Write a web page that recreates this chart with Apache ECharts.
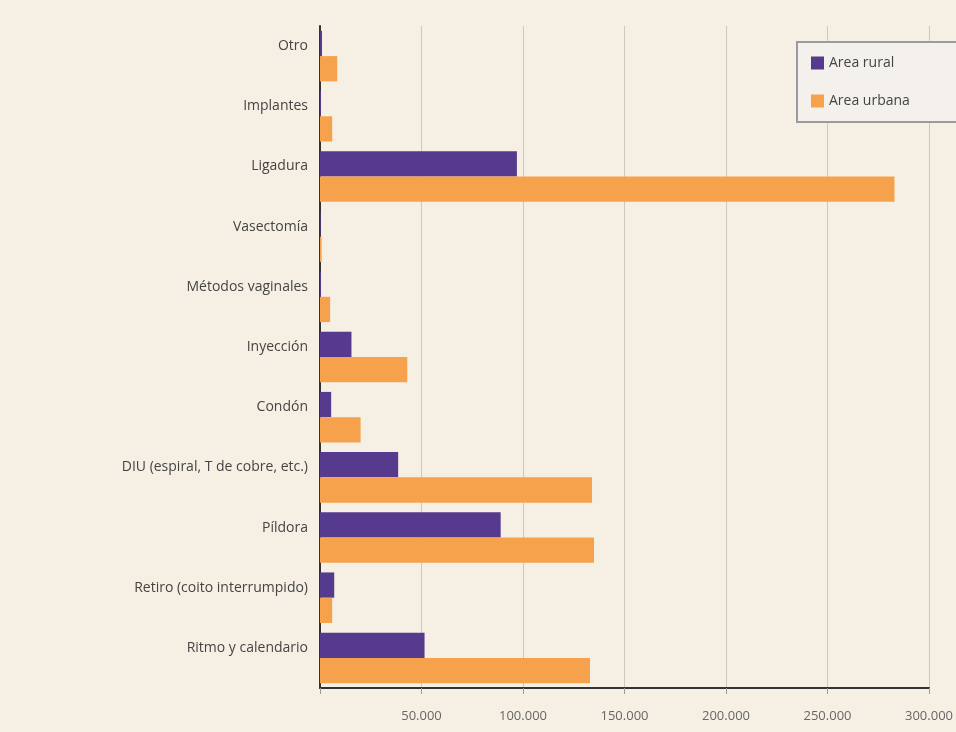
<!DOCTYPE html>
<html>
<head>
<meta charset="utf-8">
<script src="https://cdn.jsdelivr.net/npm/echarts@6/dist/echarts.min.js"></script>
<style>
html,body{margin:0;padding:0;background:#f6f0e4;}
#c{width:956px;height:732px;}
</style>
</head>
<body>
<div id="c"></div>
<script>
const categories = ['Ritmo y calendario','Retiro (coito interrumpido)','Píldora','DIU (espiral, T de cobre, etc.)','Condón','Inyección','Métodos vaginales','Vasectomía','Ligadura','Implantes','Otro'];
const rural = [51500, 7000, 89000, 38500, 5500, 15500, 500, 300, 97000, 500, 1000];
const urban = [133000, 6000, 135000, 134000, 20000, 43000, 5000, 800, 283000, 6000, 8500];
const seriesNames = ['Area rural', 'Area urbana'];

const chart = echarts.init(document.getElementById('c'));
chart.setOption({
  backgroundColor: '#f6f0e4',
  animation: false,
  textStyle: { fontFamily: 'Open Sans' },
  grid: { left: 320, right: 8, top: 26, bottom: 44 },
  legend: {
    data: seriesNames,
    orient: 'vertical',
    left: 797, top: 42,
    itemWidth: 13, itemHeight: 13, itemGap: 24,
    icon: 'rect',
    padding: [14, 60, 14, 14],
    backgroundColor: '#f4f1ec',
    borderColor: '#9a9aa0', borderWidth: 2,
    textStyle: { color: '#444', fontSize: 14, fontFamily: 'Open Sans' }
  },
  xAxis: {
    type: 'value', min: 0, max: 300000, interval: 50000,
    axisLine: { show: true, lineStyle: { color: '#333', width: 2 } },
    axisTick: { show: true, length: 6, lineStyle: { color: '#999' } },
    splitLine: { show: true, lineStyle: { color: '#cfc8bd', width: 1 } },
    axisLabel: {
      margin: 22, color: '#666', fontSize: 13,
      formatter: v => v === 0 ? '' : String(v).replace(/\B(?=(\d{3})+(?!\d))/g, '.')
    }
  },
  yAxis: {
    type: 'category', data: categories,
    axisLine: { show: true, lineStyle: { color: '#333', width: 2 } },
    axisTick: { show: false },
    axisLabel: { color: '#444', fontSize: 14, margin: 12, verticalAlign: 'bottom', lineHeight: 20 }
  },
  series: [
    { name: 'Area rural', type: 'bar', data: rural, barGap: '0%', barCategoryGap: '16%',
      itemStyle: { color: '#553a8e' } },
    { name: 'Area urbana', type: 'bar', data: urban, barGap: '0%', barCategoryGap: '16%',
      itemStyle: { color: '#f6a24c' } }
  ]
});
</script>
</body>
</html>
